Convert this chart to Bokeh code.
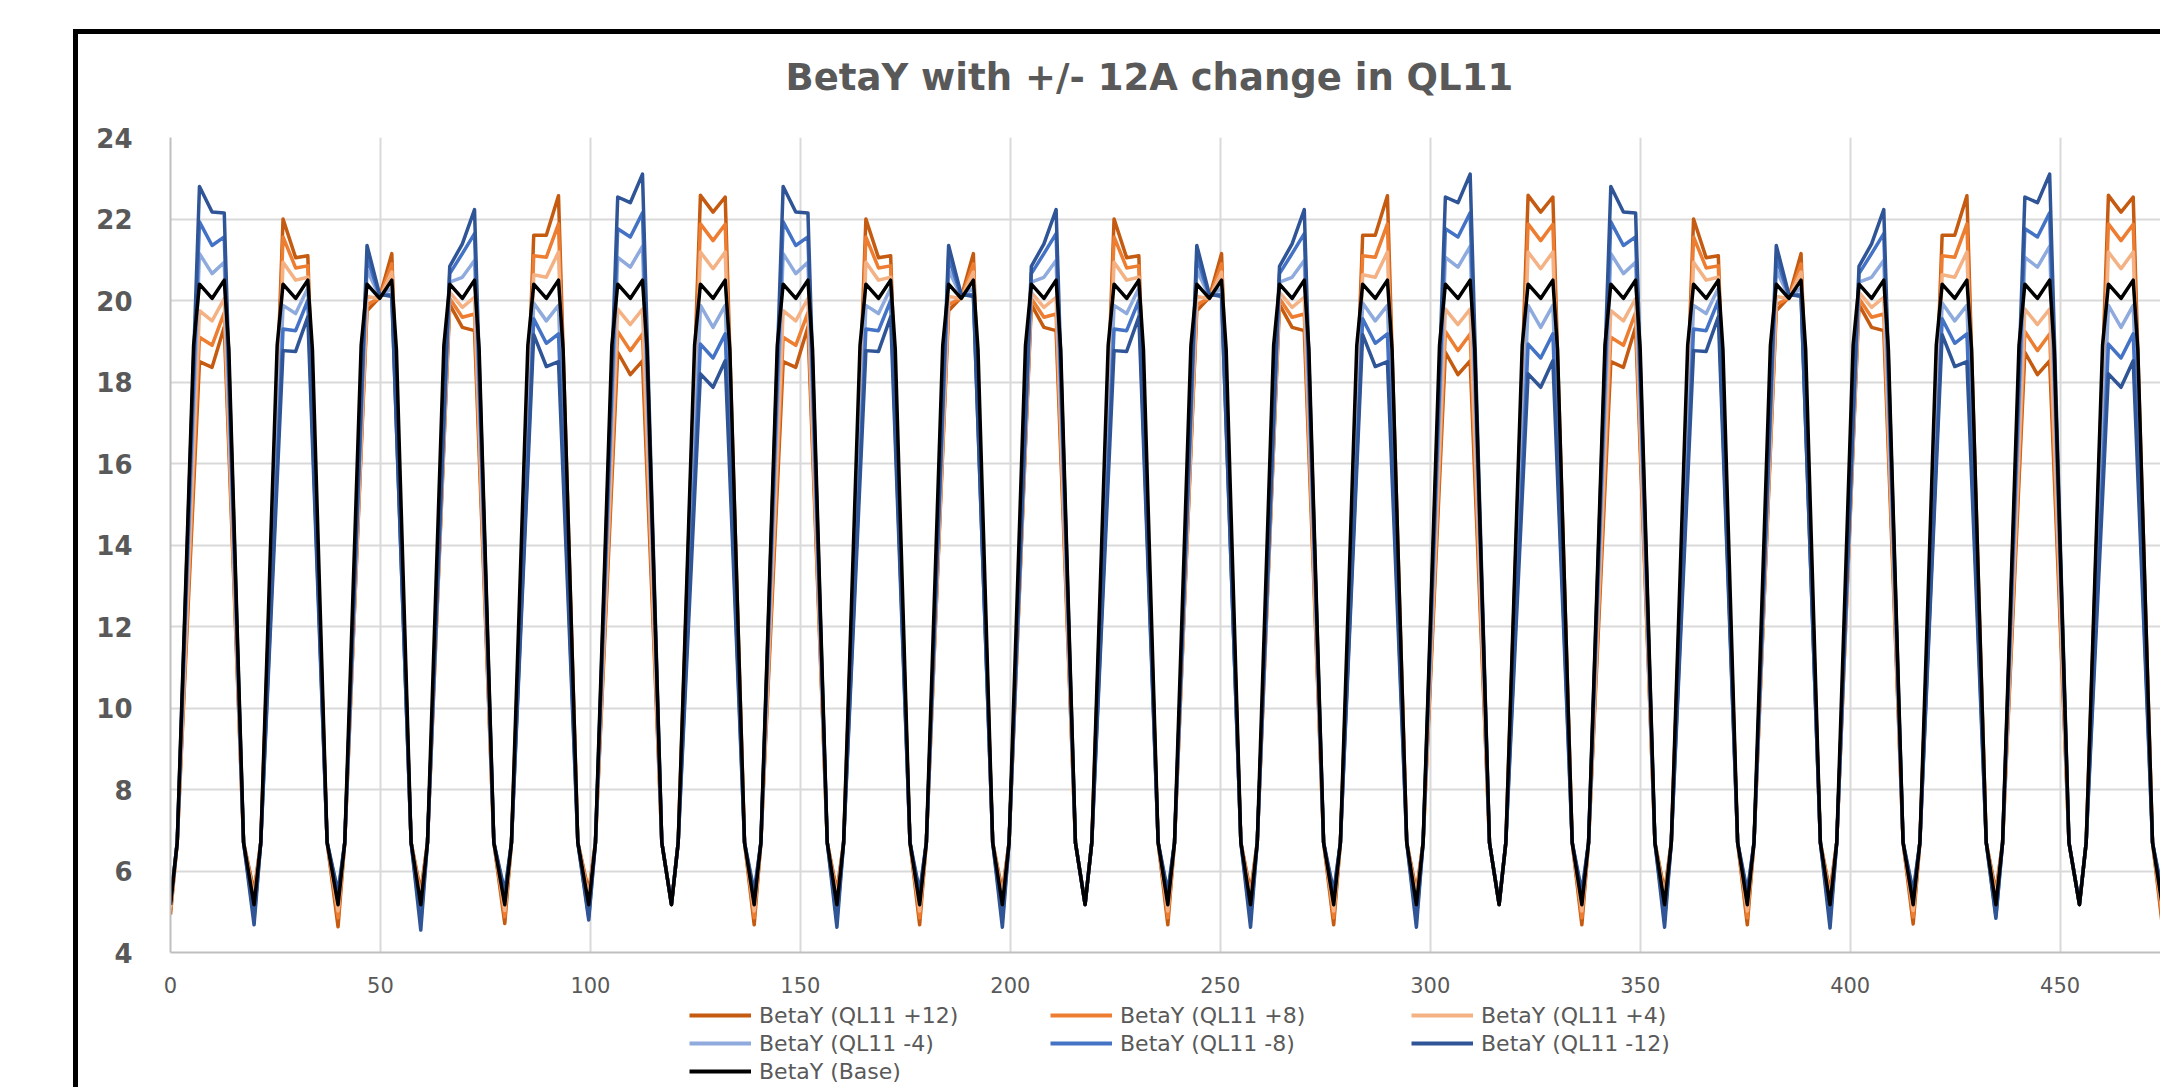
from bokeh.plotting import figure
from bokeh.layouts import column
from bokeh.models import Range1d, SingleIntervalTicker, Legend, LegendItem, GlobalInlineStyleSheet
from bokeh.embed import file_html
from bokeh.resources import INLINE

# ---------------- data ----------------
# x position of each cell minimum (cell boundaries)
CELL_BOUNDS = [0.0, 19.9, 39.9, 59.6, 79.6, 99.6, 119.3, 139.0, 158.7, 178.4, 198.1,
               217.8, 237.5, 257.2, 277.0, 296.7, 316.4, 336.1, 355.8, 375.5, 395.2,
               415.0, 434.7, 454.6, 474.3]
# sample offsets inside a cell
OFF_LOW_UP, OFF_HIGH_UP, OFF_START, OFF_MID, OFF_END, OFF_HIGH_DN, OFF_LOW_DN = 1.6, 5.5, 6.9, 9.9, 12.8, 13.9, 17.4
LOW_SHOULDER = 6.7
BASE_HIGH_UP = 18.9
BASE_HIGH_DN = 18.8

SERIES_NAMES = ["BetaY (QL11 +12)", "BetaY (QL11 +8)", "BetaY (QL11 +4)",
                "BetaY (QL11 -4)", "BetaY (QL11 -8)", "BetaY (QL11 -12)", "BetaY (Base)"]

P12_START = [18.5, 22.0, 19.75, 19.9, 21.6, 18.73, 22.58, 18.5, 22.0, 19.75, 19.9, 22.0, 19.75, 19.9, 21.6, 18.73, 22.58, 18.5, 22.0, 19.75, 19.9, 21.6, 18.73, 22.58]
P12_MID = [18.36, 21.05, 20.08, 19.34, 21.6, 18.18, 22.17, 18.36, 21.05, 20.08, 19.34, 21.05, 20.08, 19.34, 21.6, 18.18, 22.17, 18.36, 21.05, 20.08, 19.34, 21.6, 18.18, 22.17]
P12_END = [19.35, 21.1, 21.15, 19.26, 22.57, 18.52, 22.54, 19.35, 21.1, 21.15, 19.26, 21.1, 21.15, 19.26, 22.57, 18.52, 22.54, 19.35, 21.1, 21.15, 19.26, 22.57, 18.52, 22.54]
P12_MIN = [4.93, 5.5, 4.63, 5.5, 4.71, 5.5, 5.2, 4.68, 5.5, 4.68, 5.5, 5.2, 4.68, 5.5, 4.68, 5.5, 5.2, 4.68, 5.5, 4.68, 5.5, 4.7, 5.5, 5.2, 4.7]

P8_START = [19.1, 21.56, 19.9, 20.05, 21.1, 19.24, 21.88, 19.1, 21.56, 19.9, 20.05, 21.56, 19.9, 20.05, 21.1, 19.24, 21.88, 19.1, 21.56, 19.9, 20.05, 21.1, 19.24, 21.88]
P8_MID = [18.9, 20.8, 20.06, 19.59, 21.06, 18.77, 21.47, 18.9, 20.8, 20.06, 19.59, 20.8, 20.06, 19.59, 21.06, 18.77, 21.47, 18.9, 20.8, 20.06, 19.59, 21.06, 18.77, 21.47]
P8_END = [19.7, 20.85, 20.9, 19.67, 21.88, 19.18, 21.87, 19.7, 20.85, 20.9, 19.67, 20.85, 20.9, 19.67, 21.88, 19.18, 21.87, 19.7, 20.85, 20.9, 19.67, 21.88, 19.18, 21.87]
P8_MIN = [5.02, 5.4, 4.85, 5.4, 4.88, 5.4, 5.19, 4.85, 5.4, 4.85, 5.4, 5.19, 4.85, 5.4, 4.85, 5.4, 5.19, 4.85, 5.4, 4.85, 5.4, 4.87, 5.4, 5.19, 4.87]

P4_START = [19.75, 20.94, 20.1, 20.2, 20.63, 19.79, 21.19, 19.75, 20.94, 20.1, 20.2, 20.94, 20.1, 20.2, 20.63, 19.79, 21.19, 19.75, 20.94, 20.1, 20.2, 20.63, 19.79, 21.19]
P4_MID = [19.5, 20.5, 20.05, 19.83, 20.57, 19.41, 20.78, 19.5, 20.5, 20.05, 19.83, 20.5, 20.05, 19.83, 20.57, 19.41, 20.78, 19.5, 20.5, 20.05, 19.83, 20.57, 19.41, 20.78]
P4_END = [20.05, 20.57, 20.7, 20.08, 21.19, 19.79, 21.19, 20.05, 20.57, 20.7, 20.08, 20.57, 20.7, 20.08, 21.19, 19.79, 21.19, 20.05, 20.57, 20.7, 20.08, 21.19, 19.79, 21.19]
P4_MIN = [5.1, 5.3, 5.02, 5.3, 5.03, 5.3, 5.18, 5.02, 5.3, 5.02, 5.3, 5.18, 5.02, 5.3, 5.02, 5.3, 5.18, 5.02, 5.3, 5.02, 5.3, 5.03, 5.3, 5.18, 5.03]

M4_START = [21.15, 19.88, 20.75, 20.45, 19.94, 21.06, 19.88, 21.15, 19.88, 20.75, 20.45, 19.88, 20.75, 20.45, 19.94, 21.06, 19.88, 21.15, 19.88, 20.75, 20.45, 19.94, 21.06, 19.88]
M4_MID = [20.66, 19.68, 20.1, 20.57, 19.5, 20.82, 19.34, 20.66, 19.68, 20.1, 20.57, 19.68, 20.1, 20.57, 19.5, 20.82, 19.34, 20.66, 19.68, 20.1, 20.57, 19.5, 20.82, 19.34]
M4_END = [20.94, 20.3, 20.3, 20.98, 19.88, 21.33, 19.88, 20.94, 20.3, 20.3, 20.98, 20.3, 20.3, 20.98, 19.88, 21.33, 19.88, 20.94, 20.3, 20.3, 20.98, 19.88, 21.33, 19.88]
M4_MIN = [5.2, 5.0, 5.3, 4.98, 5.3, 5.02, 5.18, 5.3, 5.0, 5.3, 5.0, 5.18, 5.3, 5.0, 5.3, 5.0, 5.18, 5.3, 5.0, 5.3, 4.98, 5.3, 5.03, 5.18, 5.3]

M8_START = [21.93, 19.3, 21.05, 20.66, 19.55, 21.76, 18.93, 21.93, 19.3, 21.05, 20.66, 19.3, 21.05, 20.66, 19.55, 21.76, 18.93, 21.93, 19.3, 21.05, 20.66, 19.55, 21.76, 18.93]
M8_MID = [21.35, 19.26, 20.12, 21.15, 18.95, 21.56, 18.59, 21.35, 19.26, 20.12, 21.15, 19.26, 20.12, 21.15, 18.95, 21.56, 18.59, 21.35, 19.26, 20.12, 21.15, 18.95, 21.56, 18.59]
M8_END = [21.56, 20.0, 20.15, 21.64, 19.18, 22.15, 19.18, 21.56, 20.0, 20.15, 21.64, 20.0, 20.15, 21.64, 19.18, 22.15, 19.18, 21.56, 20.0, 20.15, 21.64, 19.18, 22.15, 19.18]
M8_MIN = [5.22, 4.84, 5.4, 4.78, 5.4, 4.88, 5.18, 5.4, 4.82, 5.4, 4.82, 5.18, 5.4, 4.82, 5.4, 4.82, 5.18, 5.4, 4.82, 5.4, 4.8, 5.4, 4.9, 5.18, 5.4]

M12_START = [22.8, 18.77, 21.35, 20.84, 19.16, 22.54, 18.2, 22.8, 18.77, 21.35, 20.84, 18.77, 21.35, 20.84, 19.16, 22.54, 18.2, 22.8, 18.77, 21.35, 20.84, 19.16, 22.54, 18.2]
M12_MID = [22.17, 18.75, 20.15, 21.39, 18.38, 22.4, 17.87, 22.17, 18.75, 20.15, 21.39, 18.75, 20.15, 21.39, 18.38, 22.4, 17.87, 22.17, 18.75, 20.15, 21.39, 18.38, 22.4, 17.87]
M12_END = [22.15, 19.6, 20.1, 22.23, 18.5, 23.1, 18.52, 22.15, 19.6, 20.1, 22.23, 19.6, 20.1, 22.23, 18.5, 23.1, 18.52, 22.15, 19.6, 20.1, 22.23, 18.5, 23.1, 18.52]
M12_MIN = [5.25, 4.68, 5.5, 4.55, 5.5, 4.8, 5.18, 5.5, 4.62, 5.5, 4.62, 5.18, 5.5, 4.62, 5.5, 4.62, 5.18, 5.5, 4.62, 5.5, 4.6, 5.5, 4.84, 5.18, 5.5]

BASE_START = [20.4, 20.4, 20.4, 20.4, 20.4, 20.4, 20.4, 20.4, 20.4, 20.4, 20.4, 20.4, 20.4, 20.4, 20.4, 20.4, 20.4, 20.4, 20.4, 20.4, 20.4, 20.4, 20.4, 20.4]
BASE_MID = [20.05, 20.05, 20.05, 20.05, 20.05, 20.05, 20.05, 20.05, 20.05, 20.05, 20.05, 20.05, 20.05, 20.05, 20.05, 20.05, 20.05, 20.05, 20.05, 20.05, 20.05, 20.05, 20.05, 20.05]
BASE_END = [20.5, 20.5, 20.5, 20.5, 20.5, 20.5, 20.5, 20.5, 20.5, 20.5, 20.5, 20.5, 20.5, 20.5, 20.5, 20.5, 20.5, 20.5, 20.5, 20.5, 20.5, 20.5, 20.5, 20.5]
BASE_MIN = [5.17, 5.17, 5.17, 5.17, 5.17, 5.17, 5.17, 5.17, 5.17, 5.17, 5.17, 5.17, 5.17, 5.17, 5.17, 5.17, 5.17, 5.17, 5.17, 5.17, 5.17, 5.17, 5.17, 5.17, 5.17]

SERIES_DATA = [
    (P12_START, P12_MID, P12_END, P12_MIN),
    (P8_START, P8_MID, P8_END, P8_MIN),
    (P4_START, P4_MID, P4_END, P4_MIN),
    (M4_START, M4_MID, M4_END, M4_MIN),
    (M8_START, M8_MID, M8_END, M8_MIN),
    (M12_START, M12_MID, M12_END, M12_MIN),
    (BASE_START, BASE_MID, BASE_END, BASE_MIN),
]
COLORS = ["#C55A11", "#ED7D31", "#F4B183", "#8FAADC", "#4472C4", "#2F5597", "#000000"]


def build(start, mid, end, mins, base):
    xs, ys = [], []
    for k in range(len(start)):
        x0 = CELL_BOUNDS[k]
        pts = [(x0, mins[k]), (x0 + OFF_LOW_UP, LOW_SHOULDER)]
        if base:
            pts.append((x0 + OFF_HIGH_UP, BASE_HIGH_UP))
        pts += [(x0 + OFF_START, start[k]), (x0 + OFF_MID, mid[k]), (x0 + OFF_END, end[k])]
        if base:
            pts.append((x0 + OFF_HIGH_DN, BASE_HIGH_DN))
        pts.append((x0 + OFF_LOW_DN, LOW_SHOULDER))
        for a, b in pts:
            xs.append(a)
            ys.append(b)
    xs += [CELL_BOUNDS[-1], CELL_BOUNDS[-1] + OFF_LOW_UP]
    ys += [mins[-1], LOW_SHOULDER]
    return xs, ys


GRAY = "#595959"
p = figure(width=2160, height=1000, output_backend="svg", toolbar_location=None,
           x_range=Range1d(0, 473.9), y_range=Range1d(4, 24),
           min_border_left=170, min_border_right=0, min_border_top=137, min_border_bottom=48)
p.background_fill_color = "white"
p.border_fill_color = "white"
p.outline_line_color = None

p.title.text = "BetaY with +/- 12A change in QL11"
p.title.align = "left"
p.title.offset = 615
p.title.standoff = 78
p.title.text_font = "DejaVu Sans"
p.title.text_font_size = "37px"
p.title.text_font_style = "bold"
p.title.text_color = GRAY

p.xaxis.ticker = SingleIntervalTicker(interval=50, num_minor_ticks=0)
p.yaxis.ticker = SingleIntervalTicker(interval=2, num_minor_ticks=0)
for ax in (p.xaxis[0], p.yaxis[0]):
    ax.major_tick_line_color = None
    ax.minor_tick_line_color = None
    ax.axis_line_color = "#BFBFBF"
    ax.axis_line_width = 2
    ax.major_label_text_color = GRAY
    ax.major_label_text_font = "DejaVu Sans"
p.xaxis.major_label_text_font_size = "21px"
p.xaxis.major_label_standoff = 18
p.yaxis.major_label_text_font_size = "26px"
p.yaxis.major_label_text_font_style = "bold"
p.yaxis.major_label_standoff = 32

p.xgrid.grid_line_color = "#D9D9D9"
p.ygrid.grid_line_color = "#D9D9D9"
p.xgrid.grid_line_width = 2
p.ygrid.grid_line_width = 2

# legend lives in its own strip below the chart
lg = figure(width=2160, height=87, output_backend="svg", toolbar_location=None,
            x_range=Range1d(0, 1), y_range=Range1d(0, 1),
            min_border_left=0, min_border_right=0, min_border_top=0, min_border_bottom=0)
lg.axis.visible = False
lg.grid.visible = False
lg.outline_line_color = None
lg.background_fill_color = "white"
lg.border_fill_color = "white"

items = []
for name, (s, m, e, mn), col in zip(SERIES_NAMES, SERIES_DATA, COLORS):
    xs, ys = build(s, m, e, mn, col == "#000000")
    p.line(xs, ys, line_color=col, line_width=3.5, line_join="round")
    # legend proxy placed outside the visible range of the legend strip
    proxy = lg.line([5, 6], [5, 6], line_color=col, line_width=4)
    items.append(LegendItem(label=name, renderers=[proxy]))

legend = Legend(items=items, orientation="horizontal", ncols=3, location=(519, 2),
                glyph_width=62, glyph_height=28, label_height=28, label_width=291,
                label_standoff=8, spacing=0, padding=0, margin=0,
                border_line_color=None, background_fill_alpha=0,
                label_text_font="DejaVu Sans", label_text_font_size="22px",
                label_text_color=GRAY)
lg.add_layout(legend)

p.stylesheets = [GlobalInlineStyleSheet(css="""
body::before{content:"";position:fixed;left:73px;top:29px;width:5px;height:1200px;background:#000;z-index:5;}
body::after{content:"";position:fixed;left:73px;top:29px;width:2200px;height:5px;background:#000;z-index:5;}
""")]

layout = column(p, lg, spacing=0)
open("out.html", "w").write(file_html(layout, INLINE))
